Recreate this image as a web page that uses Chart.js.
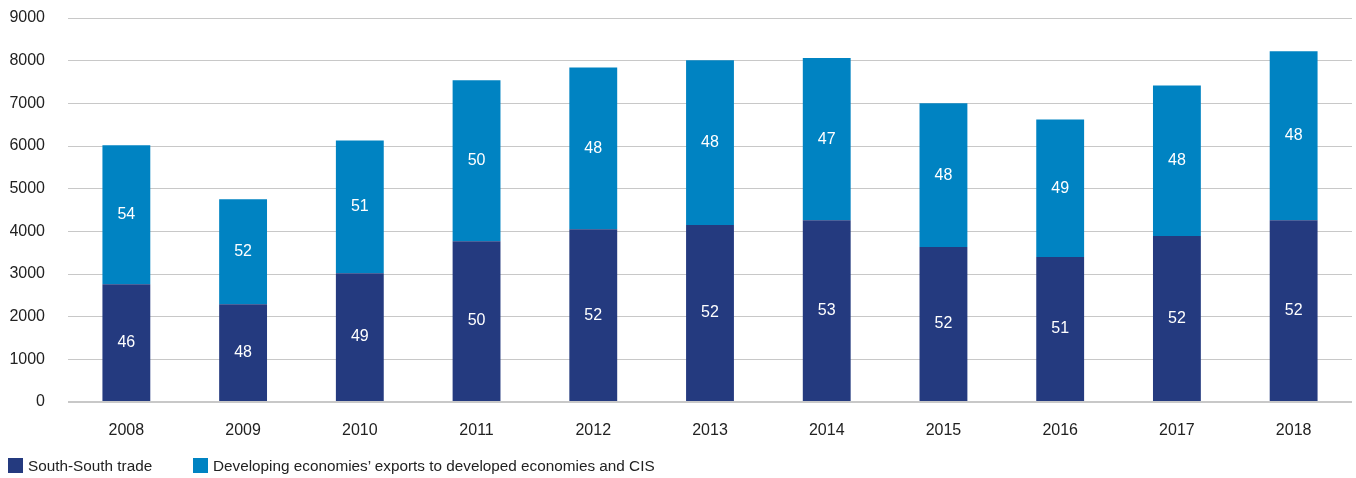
<!DOCTYPE html>
<html>
<head>
<meta charset="utf-8">
<script src="https://cdn.jsdelivr.net/npm/chart.js@4/dist/chart.umd.min.js"></script>
<style>
    body { margin: 0; background: #fff; }
    #wrap { position: relative; width: 1356px; height: 478px; }
    #legend { position: absolute; left: 8px; top: 457px; font: 15.3px "Liberation Sans", Arial, sans-serif; color: #222; }
    #legend span.item { position: absolute; white-space: nowrap; }
    #legend span.box { display: inline-block; width: 15px; height: 15px; vertical-align: -2px; margin-right: 5px; }
</style>
</head>
<body>
<div id="wrap">
    <canvas id="chart"></canvas>
    <div id="legend"></div>
</div>
<script>
"use strict";

const years = ["2008", "2009", "2010", "2011", "2012", "2013", "2014", "2015", "2016", "2017", "2018"];
const southSouth = [2760, 2290, 3020, 3770, 4050, 4150, 4260, 3630, 3400, 3890, 4260];
const toDeveloped = [3260, 2460, 3110, 3770, 3790, 3860, 3800, 3370, 3220, 3530, 3960];
const southShare = [46, 48, 49, 50, 52, 52, 53, 52, 51, 52, 52];
const developedShare = [54, 52, 51, 50, 48, 48, 47, 48, 49, 48, 48];
const yTicks = [0, 1000, 2000, 3000, 4000, 5000, 6000, 7000, 8000, 9000];

const darkBlue = "#243a7f";
const lightBlue = "#0083c2";
const fontFamily = '"Liberation Sans", Arial, sans-serif';

// skriver andelarna mitt i varje stapeldel
const shareLabels = {
    id: "shareLabels",
    afterDatasetsDraw(chart) {
        const ctx = chart.ctx;
        ctx.save();
        ctx.fillStyle = "#ffffff";
        ctx.font = "16px " + fontFamily;
        ctx.textAlign = "center";
        ctx.textBaseline = "middle";
        chart.data.datasets.forEach((ds, i) => {
            chart.getDatasetMeta(i).data.forEach((bar, j) => {
                const mid = (bar.y + bar.base) / 2;
                ctx.fillText(ds.shares[j], bar.x, mid);
            });
        });
        ctx.restore();
    }
};

window.onload = init;

function init() {
    const chartEl = document.getElementById("chart");

    new Chart(chartEl, {
        type: "bar",
        data: {
            labels: years,
            datasets: [{
                label: "South-South trade",
                data: southSouth,
                shares: southShare,
                backgroundColor: darkBlue,
                barPercentage: 0.41,
                categoryPercentage: 1
            }, {
                label: "Developing economies\u2019 exports to developed economies and CIS",
                data: toDeveloped,
                shares: developedShare,
                backgroundColor: lightBlue,
                barPercentage: 0.41,
                categoryPercentage: 1
            }]
        },
        options: {
            responsive: true,
            maintainAspectRatio: false,
            animation: false,
            layout: {
                padding: { left: 10, right: 4, top: 18, bottom: 0 }
            },
            plugins: {
                legend: { display: false },
                tooltip: { enabled: false }
            },
            scales: {
                x: {
                    stacked: true,
                    grid: { display: false, drawTicks: false },
                    border: { display: false },
                    afterFit(axis) { axis.height = 76; },
                    ticks: {
                        color: "#222",
                        padding: 19,
                        font: { family: fontFamily, size: 16 }
                    }
                },
                y: {
                    stacked: true,
                    min: 0,
                    max: 9000,
                    afterBuildTicks(axis) {
                        axis.ticks = yTicks.map(v => ({ value: v }));
                    },
                    afterFit(axis) {
                        axis.width = 58;
                        axis.paddingTop = 0;
                        axis.paddingBottom = 0;
                    },
                    grid: {
                        color: "#c8c8c8",
                        lineWidth: ctx => ctx.tick && ctx.tick.value === 0 ? 2 : 1,
                        drawTicks: false
                    },
                    border: { display: false },
                    ticks: {
                        color: "#222",
                        padding: 23,
                        font: { family: fontFamily, size: 16 },
                        callback: v => String(v)
                    }
                }
            }
        },
        plugins: [shareLabels]
    });

    // legend under diagrammet
    const legendEl = document.getElementById("legend");
    const items = [
        { text: "South-South trade", color: darkBlue, left: 0 },
        { text: "Developing economies\u2019 exports to developed economies and CIS", color: lightBlue, left: 185 }
    ];
    items.forEach(item => {
        const span = document.createElement("span");
        span.className = "item";
        span.style.left = item.left + "px";
        span.innerHTML = '<span class="box" style="background:' + item.color + '"></span>' + item.text;
        legendEl.appendChild(span);
    });
}
</script>
</body>
</html>
